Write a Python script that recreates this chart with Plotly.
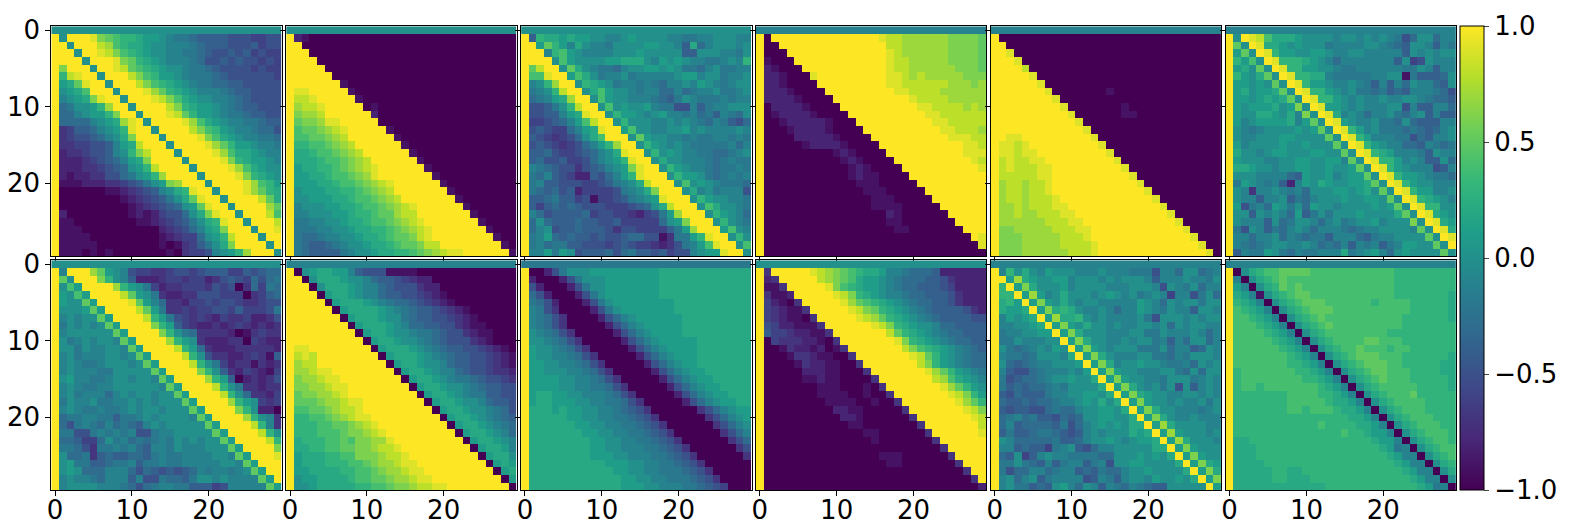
import plotly.graph_objects as go

# one letter per cell: a=-1.0, b=-0.9 ... k=0.0 ... u=1.0
LEVELS = "abcdefghijklmnopqrstu"

panel_1 = """
kkkkk kkkkk kkkkk kkkkk kkkkk kkkkk
ukuuu tqpon nmllk jiihg gggff feeff
uukuu usron mmlkk jjjih gggff fgeff
uuuku utsqo nmlkk jjiih gffgf gefee
uuuuk uuutq pnmlk jjjih ffgfg ffefe
uquuu kuuts ponml kkjii hgfff fefee
unstu ukuuu sqonl lkjii ihgff ffffe
ulmpt uukuu usqon mlkji ihhgg fffff
uklmo uuuku uutrp nmlkj jjihg gffff
ujklm qtuuk uuuts qomlk kjjih gffff
uhikk lnruu kuuuu sqnml lkjih ggfff
uhhjk llnqu ukuuu tspnl lkjii hggff
uhhhh jklmr tukuu uutro mlkjj iihgg
udegg hjkln tuuku uuusq onlkj jihhf
udeff ghjkm quuuk uuuut qomlk jjiih
uddee ffgjl msuuu kuuuu trpnl lkjji
ucdde ffgjk nqsuu ukuuu utrom mlkjj
ucccd efghj lmquu uukuu uutqn mllkj
ucccd defgh klnsu uuuku uuutr omlkk
ucbcc ddffh iklnr uuuuk uuuut qnmlk
ubbbc ccdde fgikl qruuu kuuuu tronl
uaaaa aabbc defgj kmntu ukuuu trpnm
uaaaa aaaab cdefg ikmpt uukuu uuspm
uaaaa aaaaa bcdef ghklp tuuku uuurp
ucaaa aaaaa bcbce ffhkm qtuuk uuuso
ubbaa aaaaa abbcd efgik mntuu kuuus
ubbba aaaaa aaaac defhj lmquu ukuut
ubbbb aaaaa aaaab cdeeh klnsu uukuu
ubbbb baaaa aaaab abdeg ikmqu uuuku
ubbba babaa aaaaa badee fjkln ruuuk
"""

panel_2 = """
kkkkk kkkkk kkkkk kkkkk kkkkk kkkkk
ucbaa aaaaa aaaaa aaaaa aaaaa aaaaa
uuaaa aaaaa aaaaa aaaaa aaaaa aaaaa
uuuaa aaaaa aaaaa aaaaa aaaaa aaaaa
uuuua aaaaa aaaaa aaaaa aaaaa aaaaa
uuuuu aaaaa aaaaa aaaaa aaaaa aaaaa
uuuuu uaaaa aaaaa aaaaa aaaaa aaaaa
uuuuu uubaa aaaaa aaaaa aaaaa aaaaa
uttuu uuuba aaaaa aaaaa aaaaa aaaaa
usstu uuuub aaaaa aaaaa aaaaa aaaaa
ursst uuuuu abaaa aaaaa aaaaa aaaaa
uqrrs uuuuu ucaaa aaaaa aaaaa aaaaa
upqqr ttuuu uuaaa aaaaa aaaaa aaaaa
uoppq rstuu uuuba aaaaa aaaaa aaaaa
uoopp qrsuu uuuub aaaaa aaaaa aaaaa
unnoo pqrsu uuuuu baaaa aaaaa aaaaa
ummno opqrs uuuuu ubaaa aaaaa aaaaa
ummmn oopqr suuuu uubaa aaaaa aaaaa
ulmmn nopqr stuuu uuuba aaaaa aaaaa
ullmm noopq rtuuu uuuub aaaaa aaaaa
ulllm mnoop qrstu uuuuu baaaa aaaaa
uklll mmnno pqrsu uuuuu ubaaa aaaaa
ukkll lmmno opqrs uuuuu uubaa aaaaa
ujkkk llmmn oopqr stuuu uuuba aaaaa
ujjkk kllmn noppr ssuuu uuuub aaaaa
uiijj kklmm noopq rstuu uuuuu baaaa
uiiij jkklm mnnop qrstu uuuuu ubaaa
uihhi jjkkl mmnop pqstu uuuuu uubaa
uihgg hijkk lmmno ppqss uuuuu uuuba
uihgg ggijk klmmn nopqr sttuu uuuub
"""

panel_3 = """
kkkkk kkkkk kkkkk kkkkk kkkkk kkkkk
ugnmm lmllk kjjkl kkkkj jiijj kkkjj
uulpn ljmkj jikkk kllkk jgmhj kkkjk
uuujn olkjj jjkkk lkkkk kggkk kjjik
uuuuk olkkk kllmm mkjlk lkjji ijkjn
upsuu kpmkj iihjk kllkl kiihj kiijj
uootu ulomk ijjki jjjjj klljk kijjk
ujknr uuknm lkijj ijihj jkjlk jijkk
uijkn suukm olkkj ijjhh jhijj kiijk
uhijl mruuk olkkj jjihg ikjii ijijj
uffgi knsuu koklk kljii ffjgi jjkkk
uffgg jlmtu uknll kjklj jijhi gjihk
ueefg hjlos uuknk kkjjk jkjih jigfh
ufgfe ehjlm tuulo kkjjk kljkj jjjkj
ugfed efhkm ouuuk plkkj jijii jjiji
ufgfe defhj lnruu knlkj kjiii iijhj
ugghf eefgh jkmtu uknkl kjjii hhijk
ughff geefh jklnt uukmk kjjji hijii
ujihg ffdfg hjklq tuukn lkjji hiiji
uihjg feccg fhjln tuuuk nllki hijij
uijgg fffee fgijk msuuu koklk jiiih
uihgh fgcee eefij kmquu ukmjk ijjjf
ugghi ggefb eefgi jkltu uuknl kkjji
ugegh ghgff feeef ghkms uuuko mkkji
ujhfg ggghe ffeed cefil ruuuk nlkjh
uhkhg gghgg ffgee eeehk lquuu knkji
uhjkf gghgg gfdff eeeeg ilruu ulokj
uijlh ghggf gffgh hffbd iilnt uuknk
uijhi iggff fefgf eedcd fijlo tuuko
ujjli lkfgg ghfhi ggfge ffjkl ltuuk
"""

panel_4 = """
jjjjj jjjjj jjjjj jjjjj jjjjj jjjjj
uauuu uuuuu uuuuu utssr rrrrr qqqqp
uaauu uuuuu uuuuu uussr rrrrr qqqqp
uaaau uuuuu uuuuu uutsr rrrrr qqqqp
ubaaa uuuuu uuuuu uutss rrrrr qqqqp
ucbaa auuuu uuuuu uutss rrrrr rqqqp
uccba aatuu uuuuu uutts rsrrr rrqqq
uccba aaauu uuuuu uutts sssss rrrqr
ucccb aaaau uuuuu uuutt ssssr rrrrr
ucccc baaaa uuuuu uuuuu tssss rrrrr
uaccc cbaaa auuuu uuuuu uttss ssrsr
uabcc ccbaa aauuu uuuuu uutts sssss
uaabc ccccb aaauu uuuuu uuutt sssss
uaaab ccccb aaaau uuuuu uuuut tsssr
uaaaa ccccc baaaa uuuuu uuuuu tttss
uaaaa abccc cbaaa auuuu uuuuu uutts
uaaaa aaaaa bcbaa aauuu uuuuu uuttt
uaaaa aaaaa abcba aaauu uuuuu uuuts
uaaaa aaaaa aabcb aaaau uuuuu uuuut
uaaaa aaaaa aabcb baaaa uuuuu uuuuu
uaaaa aaaaa aaabb baaaa auuuu uuuuu
uaaaa aaaaa aaaab bbaaa aauuu uuuuu
uaaaa aaaaa aaaaa bbbaa aaauu uuuuu
uaaaa aaaaa aaaaa bbbba aaaau uuuuu
uaaaa aaaaa aaaaa aacba aaaaa uuuuu
uaaaa aaaaa aaaaa aabba aaaaa auuuu
uaaaa aaaaa aaaaa aaabb aaaaa aauuu
uaaaa aaaaa aaaaa aaaaa aaaaa aaaut
uaaaa aaaaa aaaaa aaaaa aaaaa aaaat
uaaaa aaaaa aaaaa aaaaa aaaaa aaaaa
"""

panel_5 = """
jjjjj jjjjj jjjjj jjjjj jjjjj jjjjj
uaaaa aaaaa aaaaa aaaaa aaaaa aaaaa
uuaaa aaaaa aaaaa aaaaa aaaaa aaaaa
uutaa aaaaa aaaaa aaaaa aaaaa aaaaa
uuuta aaaaa aaaaa aaaaa aaaaa aaaaa
uuuus aaaaa aaaaa aaaaa aaaaa aaaaa
uuuuu taaaa aaaaa aaaaa aaaaa aaaaa
uuuuu utaaa aaaaa aaaaa aaaaa aaaaa
uuuuu uutaa aaaaa baaaa aaaaa aaaaa
uuuuu uuuta aaaaa aaaaa aaaaa aaaaa
uuuuu uuuut aaaaa aabaa aaaaa aaaaa
uuuuu uuuuu taaaa aabba aaaaa aaaaa
uuuuu uuuuu utaaa aaaaa aaaaa aaaaa
uuuuu uuuuu uutaa aaaaa aaaaa aaaaa
uuttu uuuuu uuuta aaaaa aaaaa aaaaa
uttst uuuuu uuuut aaaaa aaaaa aaaaa
uttst tuuuu uuuuu taaaa aaaaa aaaaa
ustss ttuuu uuuuu utaaa aaaaa aaaaa
ustss sttuu uuuuu uutaa aaaaa aaaaa
ussss sttuu uuuuu uuuta aaaaa aaaaa
urssr sstuu uuuuu uuuut aaaaa aaaaa
urssr sstuu uuuuu uuuuu taaaa aaaaa
urssr ssstu uuuuu uuuuu utaaa aaaaa
urrsr ssstt uuuuu uuuuu uutaa aaaaa
urrsr rssst tuuuu uuuuu uuuta aaaaa
urrrr rrsss ttuuu uuuuu uuuut aaaaa
uqqrr rrrss sttuu uuuuu uuuuu taaaa
uqqqr rrrrs sstuu uuuuu uuuuu utaaa
uqqqr rrrrs ssstu uuuuu uuuuu uutaa
uqqqr rrrrr ssstu uuuuu uuuuu uuuta
"""

panel_6 = """
jjjjj jjjjj jjjjj jjjjj jjjjj jjjjj
ukuts ommml kkkkj kkjkj kjifh kkhjj
upkut mmlkl kkkij jjjkk jihgk kjgji
ulpku tnllk kllkj jkkjj jjjgk jkjkk
unlok utnnn mlkjh jjjjj jjgke fkjjj
ulmkp kutnn llkkj iijjj jjjii kjgjj
unlkm pkutn nmmji iiiij jkkbi ggghk
ullkl kpkut nllkj jkjig jgjhk jjhgk
ulmkl lmpku tnnlk jkiih ighgj jjihf
ullkl mlmpk utnnl kjkjj kjjkk jihhg
ulkll lmklq kutll kjkjj jkkfj ggjjh
ulkkm mlkmj qkutm jkjhj jkihj kgjgg
uljkl lllmj lpkut lkjjk iihkh gggjj
ukjij kkkkl klpku tnljk iiihi hghjk
ukjjk kkllk kkkpk utnlj jjiif hgjjk
uljkk kklkk lkkkp kutnl kjjhh gjihi
umkkj kllkk kllkk pkutn mljjj igkjj
ulkkk jjkkl lkkll jpkut nnljk jggkh
ummlk kjkkl lkklk klpku tnlkj jjfgj
ukkkj jjjhg lkklj kllpk utnll kjiih
uilkj ijgcj lkmlk kllmp kutnl kkjjj
ukjdj jkjij hkkkl lklmk pkutn lljjk
ukjjg jjkgi hjkkk lkkll kpkut nmlkj
ulfij hlkik hlkkj kkkkl klpku tnnkk
ukkgk jkjhl gikik kklkk kkmpk utmlk
ukjjj gkhik kjhjk ijkkl jkkkq kutml
uifkj gihjk jhjjj ihijj kkkkj pkutm
ujjhj jkhji hiigj jjhgi jjkkk kpkut
ujihi jkkjj kjhih jgjij gijll kkpku
ugjii lkihj iijjj mijkl jhklk kkkpk
"""

panel_7 = """
kkkkk kkkkk kkkkk kkkkk kkkkk kkkkk
ujuuu rplkj feedd effef gggee gfghh
upkuu uqnkj gcccd eedee cdfgf ehfhi
ukolu uuurn lkiec ddeee dfefa dheih
ulkol uuuus plkid ccddf ffeee adegh
ulkkp luuuu tpljh ddcee feffe ddeff
ukkkl pluuu uspli ddede effeg eeefi
ujkjk kpluu uusnl ifede dcedd eccdf
uikjk jkplu uuuqn lgedc cdcde dcdcd
ujkkk kkkpl uuuuq nkihd dddca bdedd
ukijk jkkjp luuuu rnlkd cccdd aedcc
ukkik jjkkj pluuu usnlh dcccd ddddc
ujkij jjkkj kpluu uusnk fddcc dedbg
ujkji ijkkk jkplu uuusn kiecd dbdcd
ujkjj jiikk kkkpl uuuuq nkgdc edcbe
ukljj iijkk jkkjp luuuu rnlga cdcdf
ujkji ijjkk kkkkj pluuu usnki ddcdd
ujkij jjhjk jkkjk kpluu uusnk hddce
uikjj kiijj kjkjk kkplu uuurn lkede
ujkji ijiij kjkkj kkkpl uuuuq nkcca
uhiij jiigi ijkjk kkkjp luuuu rnkjd
uhfij ihjhi hgjkj kkkkk pluuu usnjd
uiiff ijiji jffij jkkkk kpluu uusnk
uhhge ehkij hihij ikjkj kkplu uuusn
uiihf diiji jhgjj ikjjj kkkpl uuuuq
ukhhi dghgg hhgij iijjj jkkjp luuut
uklii gghii jgiij iijjj jjkkj pluuu
uklkh hhjjj hfhgf gfghj ijjij kpluu
ujkjj ihjjj gjffi hhgik kjkjj jjplu
ujkkk kjjji hfhij jiigg gefjj jjjpl
"""

panel_8 = """
jjjjj jjjjj jjjjj jjjjj jjjjj jjjjj
uaklm mlljg fffbb bbaaa aaaaa aaaaa
uuakm mmlkk jhggf edcca aaaaa aaaaa
uuuak mmmlk jjhgf ffdcc aaaaa aaaaa
uuuua lmmlk jjhgg ffedc baaaa aaaaa
uuuuu almmm lkjih hgfed cbaaa aaaaa
uuuuu ualmm mmlkj ihggf edcba aaaaa
uuuuu uualm mmlkk ihggf fedcb aaaaa
uuuuu uuual mmmlk jhhgg ffdcb baaaa
uuuuu uuuua lmmlk kjiih gffdc bbaaa
uuuuu uuuuu almml kkjih gfffd cbaaa
uttuu uuuuu ualmm mlkji hggff edcba
ustsu uuuuu uualm mmlkj ihggf fedcb
urssu uuuuu uuual mmlkk jhggf fedcb
urrst tuuuu uuuua lmmlk jjhgf feddc
uqrrs ttuuu uuuuu almml kjiih gffed
uqqrr sttuu uuuuu ualmm lkkji hggff
upqqr rstuu uuuuu uualm mlkji iggff
upppq rrstt uuuuu uuual mmlkk jhggf
uoopp qrsst uuuuu uuuua lmmlk kjihf
unnoo pqrst tuuuu uuuuu almml kjihg
unnno oppqr stuuu uuuuu ualmm lkjih
unnno oopqq rstuu uuuuu uualm mlkjh
umnnn oopoq qrrtu uuuuu uuual mmlkj
ummnn ooppq qrsst uuuuu uuuua lmmlj
ulmmm nnooq qqrss tuuuu uuuuu almmk
ulmmm nnnoo pqrrs ttuuu uuuuu ualml
ullmm mmnno opqrr sttuu uuuuu uualm
ukllm mmmno oppqr rsttu uuuuu uuual
ukklm mmmmn noopq qrsst tuuuu uuuua
"""

panel_9 = """
iiiii iiiii iiiii iiiii iiiii iiiii
uaacf ikkkl lllll lllmm mmmmm mmmmm
ucaaa cfikk kllll lllmm mmmmm mmmmm
ufcaa acfik kllll lllmm mmmmm mmmmm
uhfca aacfi kllll lllmm mmmmm mmmmm
uihfc aaacf iklll lllll mmmmm mmmmm
ujifd aaaac fikll lllll mmmmm mmmmm
ujihf daaaa cfhjk lllll lmmmm mmmmm
ujihf daaaa acfhj kllll lmmmm mmmmm
ukjih fdaaa aacfh jklll lmmmm mmmmm
ukkji hfdaa aaacf hjkll lllmm mmmmm
ulkkj ihfda aaaac fhjkl lllmm mmmmm
ulkkj jihfd aaaaa cfhjk lllmm mmmmm
ullkk jjihf daaaa acfhj kllmm mmmmm
ullkk kjjih fdaaa aacfh jkllm mmmmm
ullll kkjji hfdaa aaacf hjkll mmmmm
ullll kkjji ihfda aaaac fhjkl lmmmm
ulmml lkkjj jihfd aaaaa cfhjk llmmm
ulmml llkkj jiihf daaaa acfhj kllmm
ummml mllkk jjihg fdaaa aaadf hjkll
ummmm mllkk jjiih gfdaa aaaad fhjkl
ummmm mmllk kjjii hgfda aaaaa dfhjk
ummmm mmmll kkjji ihgfd aaaaa adfhj
ummmm mmmml lkkjj iihgf daaaa aadfh
ummmm mmmml lkkjj jiihg fdaaa aaadf
ummmm mmmml llkkj jjiih gfdaa aaaad
ummmm mmmmm mlllk kjjii hgfda aaaaa
ummmm mmmmm mmllk kjjii ihgfd aaaaa
ummmm mmmmm mmmll kkjji iihgf daaaa
ummmm mmmmm mmmll lkkjj jiihg feaaa
"""

panel_10 = """
kkkkk kkkkk kkkkk kkkkk kkkkk kkkkk
uduuu uutsr qponm mljji hhhgc ccccc
ucduu uuusr qpoml lkjih hhggf dcccc
ubbdu uuuut qonml lkjih hgggf ecccc
udbbc uuuuu tsqnm lkjji hhggg fdccc
uecba duuuu utrpo nmlkj ihhgg fdccc
uedcb bduuu uutsq pnmlk jihgg ggfdc
uedcb baduu uuuts rpnml kjihg gggff
ufecc bbbdu uuuuu tsqnm lkkjh hgggg
ugeed ccbbd uuuuu uuspn mlkji hhggg
uaedd dccba duuuu uuutq nmlkj ihhgg
uaabd ccbca bduuu uuuus qonml kjihg
uaaab ddcbb aaduu uuuuu tspnl kjihh
uaaaa bdccb baadu uuuuu usqnl kjihh
uaaaa acccb baaad uuuuu uutrp nlkji
uaaaa abbcb baaaa duuuu uuusr omlkj
uaaaa aaabb baaab aduuu uuuut rpnlk
uaaaa aaabb bbaab aaduu uuuuu tsqnl
uaaaa aaaab bbbaa baadu uuuuu utrpn
uaaaa aaaaa ccbba aaaad uuuuu uutsq
uaaaa aaaaa accba aaaaa duuuu uuuts
uaaaa aaaaa aabba aaaaa aduuu uuuus
uaaaa aaaaa aaaab baaaa aaduu uuuut
uaaaa aaaaa aaaaa baaaa aaadu uuuuu
uaaaa aaaaa aaaaa aaaaa aaaad uuuuu
uaaaa aaaaa aaaaa abbba aaaaa duuuu
uaaaa aaaaa aaaaa aabba aaaaa aduuu
uaaaa aaaaa aaaaa aaaaa aaaaa aaduu
uaaaa aaaaa aaaaa aaaaa aaaaa aaadu
uaaaa aaaaa aaaaa aaaaa aaaaa aaaac
"""

panel_11 = """
jjjjj jjjjj jjjjj jjjjj jjjjj jjjjj
ujnkm kjlkk kjjjk jjjii ifjjh kkhij
uulrm lkkll jkkkj kjkkk jgjjj kjjik
unulq mkkkl jkkkk jjjkk kjfkj ikhjj
unnul rljkm kkkjk lkjki jkjej jfikh
umnlu lqlkm kjkkj jjjjl kjhkj kkikk
umllm ulqmn mkjjk jhjjl kjikj jgkkj
ujlkl mulrm mnkjk jjjjk ifkkk jkjkk
ujjkk lmulq lkmkk jkjjk kjkhk jkkjj
uijjk kllul qmkkk jjjkk iikjj jkjhj
uiikj jjkku lqmkk jjkjk kijgj hkkhj
ukihi jkjlk ulqlk jkkki iikhj jghkj
ujiih ikkkj mulqm kjjjk kiihj ikkkj
ukhgh ijjkk klulq mjkkl kkjii jhkjk
ujgff hijjj kjlul qlkkj jjkki hkhkk
uifgh hijkk lkkmu lqlkk jjikk kijkj
uighg hhiji kkkkm ulqmk jkikf kgjkj
ugfhg ggijj kkllk mulqm lkkjj kkjkj
uhggh ghhij jklkm kmulq lkkjk jjkik
ugfgg ffhih hjkkl lkmul qmkkj jjijk
uhijh iggfh ghkkl lkkmu lqmkj jkjjj
uhjgh hhhgi fhjkl klkmm ulrmk kkkjj
ugigg hiihg fgjkj kkkml mulrl kkkjk
ukjhh hhhig ghjkk lkjkl lmulr mkkkj
ujjgh ggeij kgfhj jkkkk kmmul qlkkk
uhgke gjkjj iiiih hkkkl klkmu lqlkk
uiiki hgjgi jjgij fkkll kkkkm ulqml
uifhh jjhij jghgi hhjkk lkkkk mulqm
ujkhj kgijj jjfgj igjkk jlkkl kmulq
ujkii ghgkl jhkjg jihji hggkk kkkul
"""

panel_12 = """
jjjjj jjjjj jjjjj jjjjj jjjjj jjjjj
uakmn ooppp poooo ooooo oonnn nnnnn
ujakm nopoo ooooo ooooo oonnn nnnnn
uljak mnpop ooooo ooooo oonnn nnnnn
umljb kmnop poooo ooooo oonnn nnnnm
unmlj akmno pppoo oooon oooon nnnnm
uonml jakmn opppo ooooo oooon nnnnm
uoonm ljakm nopoo ooooo ooonn nnnnm
uooon mljak mnopo ooooo ooonn nnnnn
uoooo nmlja kmnoo ooooo onnnn nnnnn
uoooo onmlj akmno ooopp ooonn nnnnn
uoooo oonml jakmn oopoo onoon nnnnn
uoooo ooonm ljakm noppp ooonn nnnnm
uoooo ooonn mljak mnopp poonn nnnmm
unooo oooon nmlja kmnop pooon nnnmm
unooo ooooo nnmlj akmno pooon nnnnm
unoon ooooo oonml jakmn ooooo nnnnm
unnnn nnnoo oonnm ljakm nooop nnnnn
unnnn nnnoo ooonm mljak mnooo onnnn
unnnn nnnoo nooon mmlja kmnoo onnnn
unnnn nnnnn nnnnn nmmlj akmno oonnn
unnnn nnnnn nnonn nnmml jakmn ooonn
unnnn nnnnn nnnnn onnml ljakm nooon
ummnn nnnnn nnnnn nnnnm lljak mnoon
ummmn nnnnn nnnnn nnnnn mlija kmnoo
ummmn nnnnn nnnnn nnnnn nmljj akmno
ummmm nnnnn nnnnn nnnnn nnmlj jakmn
ummmm mnnmm nnnnn nnnnn nnnml jjakm
ummmm mnnmm mnnnn nnnnn nnnnm ljjak
ummmm mmmmm mmmnn nnnnn nnnnn mlija
"""

panels = [panel_1, panel_2, panel_3, panel_4, panel_5, panel_6,
          panel_7, panel_8, panel_9, panel_10, panel_11, panel_12]
axis_ticks = [0, 10, 20]
colorbar_ticks = [-1.0, -0.5, 0.0, 0.5, 1.0]

W, H = 1572, 532
FONT = dict(family="DejaVu Sans", size=26, color="black")


def decode(text):
    rows = ["".join(line.split()) for line in text.strip().split("\n")]
    bad = [(i, len(r)) for i, r in enumerate(rows) if len(r) != 30]
    if bad or len(rows) != 30:
        raise ValueError(bad)
    return [[LEVELS.index(c) / 10 - 1 for c in r] for r in rows]


fig = go.Figure()
for n, text in enumerate(panels):
    row, col = divmod(n, 6)
    x0 = 51.3 + 234.9 * col
    y0 = 26.3 if row == 0 else 260.3
    name = "" if n == 0 else str(n + 1)
    fig.add_trace(go.Heatmap(
        z=decode(text), x=list(range(30)), y=list(range(30)),
        colorscale="Viridis", zmin=-1, zmax=1, xaxis="x" + name, yaxis="y" + name,
        showscale=n == 0, hoverinfo="skip",
        colorbar=dict(
            x=1459.5 / W, xanchor="left", xpad=0, y=1 - 26.3 / H, yanchor="top", ypad=0,
            len=464 / H, lenmode="fraction", thickness=24, thicknessmode="pixels",
            outlinewidth=1, outlinecolor="black", ticks="outside", ticklen=5, tickwidth=1,
            tickvals=colorbar_ticks, tickformat=".1f", tickfont=FONT),
    ))
    common = dict(showline=True, mirror=True, linecolor="black", linewidth=1, showgrid=False,
                  zeroline=False, ticks="outside", ticklen=5, tickwidth=1, tickcolor="black",
                  tickvals=axis_ticks, tickfont=FONT)
    fig.layout["xaxis" + name] = dict(
        common, domain=[x0 / W, (x0 + 230.4) / W], range=[-0.5, 29.5],
        anchor="y" + name, showticklabels=row == 1, ticklabelstandoff=-8)
    fig.layout["yaxis" + name] = dict(
        common, domain=[1 - (y0 + 229.6) / H, 1 - y0 / H], range=[29.5, -0.5],
        anchor="x" + name, showticklabels=col == 0)

fig.update_layout(width=W, height=H, margin=dict(l=0, r=0, t=0, b=0, autoexpand=False),
                  paper_bgcolor="white", plot_bgcolor="white", font=FONT)
fig.write_html("out.html", config={"displayModeBar": False},
               post_script="document.body.style.margin='0';document.body.style.overflow='hidden';")
